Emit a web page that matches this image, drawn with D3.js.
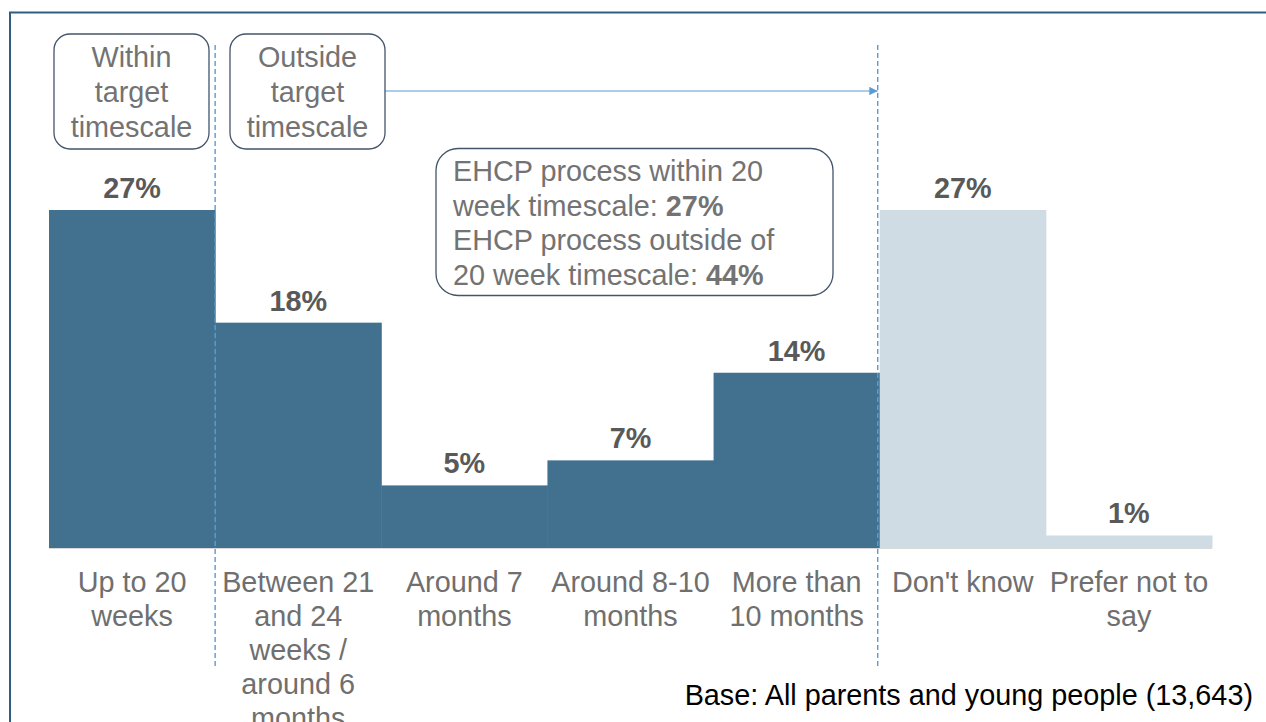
<!DOCTYPE html>
<meta charset="utf-8">
<title>EHCP timescale</title>
<style>
body { margin: 0; background: #fff; }
svg { display: block; font-family: Arial, "Liberation Sans", sans-serif; }
</style>
<body>
<script src="https://cdn.jsdelivr.net/npm/d3@7"></script>
<script>

var width = 1266,
    height = 722;

// data
var categories = ["Up to 20\nweeks", "Between 21\nand 24\nweeks /\naround 6\nmonths", "Around 7\nmonths",
                  "Around 8-10\nmonths", "More than\n10 months", "Don't know", "Prefer not to\nsay"];
var values = [27, 18, 5, 7, 14, 27, 1];
var known = [true, true, true, true, true, false, false];

var boxWithin = ["Within", "target", "timescale"];
var boxOutside = ["Outside", "target", "timescale"];
var summaryLines = [["EHCP process within 20", ""], ["week timescale: ", "27%"],
                    ["EHCP process outside of", ""], ["20 week timescale: ", "44%"]];
var baseNote = "Base: All parents and young people (13,643)";

var fs = 28.8;

var svg = d3.select("body").append("svg")
    .attr("width", width)
    .attr("height", height);

// frame
svg.append("path")
    .attr("d", "M10," + height + "V12.5H" + width)
    .attr("fill", "none")
    .attr("stroke", "#2f5f85")
    .attr("stroke-width", 2);

var x = d3.scaleBand().domain(categories).range([49, 1212]).padding(0);
var y = d3.scaleLinear().domain([0, 27]).range([548, 210]);

var data = categories.map(function(c, i) { return {cat: c, v: values[i], known: known[i]}; });

svg.selectAll(".bar").data(data).enter().append("rect")
    .attr("class", "bar")
    .attr("x", function(d) { return x(d.cat); })
    .attr("width", x.bandwidth() + 0.5)
    .attr("y", function(d) { return y(d.v); })
    .attr("height", function(d) { return y(0) - y(d.v); })
    .attr("fill", function(d) { return d.known ? "#41718f" : "#d0dce4"; });

// baseline
svg.append("line")
    .attr("x1", x.range()[0]).attr("x2", x.range()[1])
    .attr("y1", y(0) + 0.5).attr("y2", y(0) + 0.5)
    .attr("stroke", "#d9d9d9");

svg.selectAll(".val").data(data).enter().append("text")
    .attr("class", "val")
    .attr("x", function(d) { return x(d.cat) + x.bandwidth() / 2; })
    .attr("y", function(d) { return y(d.v) - 12; })
    .attr("text-anchor", "middle")
    .attr("font-size", fs)
    .attr("font-weight", "bold")
    .attr("fill", "#595959")
    .text(function(d) { return d.v + "%"; });

// category labels
var labels = svg.selectAll(".cat").data(data).enter().append("text")
    .attr("class", "cat")
    .attr("text-anchor", "middle")
    .attr("font-size", fs)
    .attr("fill", "#6f6f6f");
labels.each(function(d) {
  var t = d3.select(this);
  d.cat.split("\n").forEach(function(line, i) {
    t.append("tspan")
      .attr("x", x(d.cat) + x.bandwidth() / 2)
      .attr("y", 592 + i * 34)
      .text(line);
  });
});

// dashed dividers
var divX = [x(categories[1]), x(categories[5]) - 2];
svg.selectAll(".div").data(divX).enter().append("line")
    .attr("x1", function(d) { return d; }).attr("x2", function(d) { return d; })
    .attr("y1", 45).attr("y2", 667)
    .attr("stroke", "#5b9bd5")
    .attr("stroke-width", 1.4)
    .attr("stroke-dasharray", "5,3");

// arrow
svg.append("defs").append("marker")
    .attr("id", "arr")
    .attr("viewBox", "0 0 10 10")
    .attr("refX", 10).attr("refY", 5)
    .attr("markerWidth", 7).attr("markerHeight", 7)
    .attr("orient", "auto")
    .append("path").attr("d", "M0,0L10,5L0,10z").attr("fill", "#5b9bd5");

svg.append("line")
    .attr("x1", 385).attr("x2", divX[1])
    .attr("y1", 91).attr("y2", 91)
    .attr("stroke", "#5b9bd5")
    .attr("stroke-width", 1.2)
    .attr("marker-end", "url(#arr)");

function labelBox(x0, lines) {
  svg.append("rect")
    .attr("x", x0).attr("y", 34)
    .attr("width", 155).attr("height", 115)
    .attr("rx", 16)
    .attr("fill", "#fff")
    .attr("stroke", "#44546a")
    .attr("stroke-width", 1.3);
  var t = svg.append("text")
    .attr("text-anchor", "middle")
    .attr("font-size", fs)
    .attr("fill", "#737373");
  lines.forEach(function(l, i) {
    t.append("tspan").attr("x", x0 + 77.5).attr("y", 67 + i * 35).text(l);
  });
}
labelBox(54, boxWithin);
labelBox(230, boxOutside);

// summary box
svg.append("rect")
    .attr("x", 436).attr("y", 148.5)
    .attr("width", 397).attr("height", 147)
    .attr("rx", 22)
    .attr("fill", "#fff")
    .attr("stroke", "#44546a")
    .attr("stroke-width", 1.3);

var st = svg.append("text")
    .attr("font-size", fs)
    .attr("fill", "#737373");
summaryLines.forEach(function(l, i) {
  st.append("tspan").attr("x", 453).attr("y", 181 + i * 34.7).text(l[0]);
  if (l[1]) st.append("tspan").attr("font-weight", "bold").text(l[1]);
});

svg.append("text")
    .attr("x", 1253).attr("y", 705)
    .attr("text-anchor", "end")
    .attr("font-size", fs)
    .attr("fill", "#000")
    .text(baseNote);

</script>
